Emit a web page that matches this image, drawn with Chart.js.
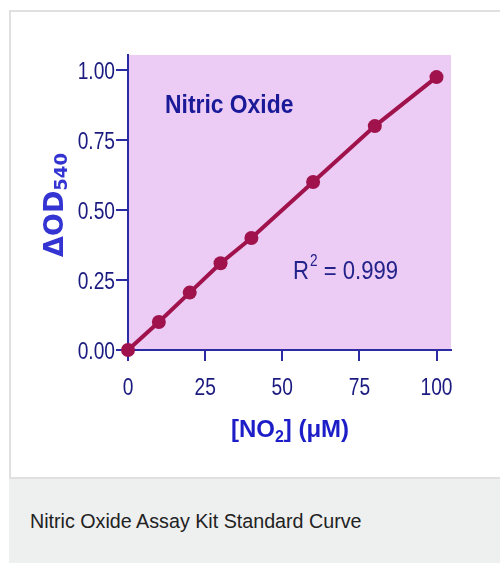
<!DOCTYPE html>
<html lang="en">
<head>
  <meta charset="UTF-8">
  <title>Nitric Oxide Assay Kit Standard Curve</title>
  <style>
    * { margin: 0; padding: 0; box-sizing: border-box; }
    body { width: 500px; height: 563px; background: #fff; overflow: hidden; position: relative; font-family: "Liberation Sans", Arial, sans-serif; }
    /* white card with the figure */
    .card {
      position: absolute; left: 9px; top: 10px; width: 520px; height: 469px;
      border: 2px solid #e0e0e0; background: #fff;
    }
    /* grey caption strip */
    .caption {
      position: absolute; left: 9px; top: 479px; width: 520px; height: 100px;
      background: #eeefef; color: #222;
      font-size: 19.7px; padding: 31px 0 0 21px;
    }
    canvas { position: absolute; left: 0; top: 0; }
  </style>
  <script src="https://cdn.jsdelivr.net/npm/chart.js"></script>
</head>
<body>
  <div class="card"></div>
  <div class="caption">Nitric Oxide Assay Kit Standard Curve</div>
  <canvas id="curve" width="500" height="563"></canvas>

  <script>
    // standard curve readings
    const concentrations = [0, 10, 20, 30, 40, 60, 80, 100];      // [NO2] uM
    const absorbance = [0, 0.10, 0.205, 0.31, 0.40, 0.60, 0.80, 0.975]; // dOD540
    const xTicks = [0, 25, 50, 75, 100];
    const yTicks = [0, 0.25, 0.5, 0.75, 1.0];

    const sans = '"Liberation Sans", Arial, sans-serif';
    const axisColor = '#2b2ba3';
    const tickColor = '#1a1a80';
    const lineColor = '#a0124c';

    // no narrow font installed, so squeeze text horizontally
    function narrowText(ctx, text, x, y, font, sx, align) {
      ctx.save();
      ctx.font = font;
      const w = ctx.measureText(text).width * sx;
      const x0 = align === 'right' ? x - w : align === 'center' ? x - w / 2 : x;
      ctx.translate(x0, y);
      ctx.scale(sx, 1);
      ctx.textAlign = 'left';
      ctx.textBaseline = 'alphabetic';
      ctx.fillText(text, 0, 0);
      ctx.restore();
      return w;
    }

    // pink plot background
    const plotBg = {
      id: 'plotBg',
      beforeDraw(chart) {
        const { ctx, chartArea: a } = chart;
        ctx.save();
        ctx.fillStyle = '#eccbf4';
        ctx.fillRect(a.left, a.top, a.right - a.left, a.bottom - a.top);
        ctx.restore();
      }
    };

    // tick labels and titles
    const labels = {
      id: 'labels',
      afterDraw(chart) {
        const ctx = chart.ctx;
        const xs = chart.scales.x, ys = chart.scales.y;
        ctx.save();

        ctx.fillStyle = tickColor;
        const tickFont = '24px ' + sans;
        yTicks.forEach(v => {
          narrowText(ctx, v.toFixed(2), 115, ys.getPixelForValue(v) + 8.6, tickFont, 0.8, 'right');
        });
        xTicks.forEach(v => {
          narrowText(ctx, String(v), xs.getPixelForValue(v), 394.5, tickFont, 0.8, 'center');
        });

        // inner title
        ctx.fillStyle = '#1a1a99';
        narrowText(ctx, 'Nitric Oxide', 165, 113, 'bold 25px ' + sans, 0.915, 'left');

        // R squared
        ctx.fillStyle = '#22228a';
        let x = 293;
        x += narrowText(ctx, 'R', x, 279, '26px ' + sans, 0.85, 'left');
        x += narrowText(ctx, '2', x + 1, 266, '16px ' + sans, 0.85, 'left') + 1;
        narrowText(ctx, ' = 0.999', x, 279, '26px ' + sans, 0.85, 'left');

        // x axis title
        ctx.fillStyle = '#1e1ec8';
        const p1 = '[NO', p2 = '2', p3 = '] (\u03bcM)';
        ctx.font = 'bold 24px ' + sans;
        const w1 = ctx.measureText(p1).width, w3 = ctx.measureText(p3).width;
        ctx.font = 'bold 16px ' + sans;
        const w2 = ctx.measureText(p2).width;
        const xt = 290 - (w1 + w2 + w3) / 2;
        ctx.textBaseline = 'alphabetic';
        ctx.font = 'bold 24px ' + sans;
        ctx.fillText(p1, xt, 437);
        ctx.font = 'bold 16px ' + sans;
        ctx.fillText(p2, xt + w1, 442);
        ctx.font = 'bold 24px ' + sans;
        ctx.fillText(p3, xt + w1 + w2, 437);

        // y axis title, rotated
        ctx.fillStyle = '#3434d2';
        const big = 'bold 27px "DejaVu Sans", sans-serif';
        const small = 'bold 18px "DejaVu Sans", sans-serif';
        ctx.font = big;
        const wm = ctx.measureText('\u0394OD').width;
        ctx.font = small;
        const ws = ctx.measureText('540').width;
        ctx.translate(63, 205 + (wm + ws) / 2);
        ctx.rotate(-Math.PI / 2);
        ctx.font = big;
        ctx.fillText('\u0394OD', 0, 0);
        ctx.font = small;
        ctx.fillText('540', wm, 4);
        ctx.restore();
      }
    };

    new Chart(document.getElementById('curve').getContext('2d'), {
      type: 'scatter',
      data: {
        datasets: [{
          data: concentrations.map((c, i) => ({ x: c, y: absorbance[i] })),
          showLine: true,
          borderColor: lineColor,
          borderWidth: 4,
          pointRadius: 7,
          pointBackgroundColor: lineColor,
          pointBorderWidth: 0,
          clip: false
        }]
      },
      options: {
        responsive: false,
        animation: false,
        layout: { padding: { left: 0, top: 55, right: 49, bottom: 153 } },
        plugins: { legend: { display: false }, tooltip: { enabled: false } },
        scales: {
          x: {
            type: 'linear', min: 0, max: 104.7,
            afterBuildTicks: s => { s.ticks = xTicks.map(v => ({ value: v })); },
            afterFit: s => { s.height = 60; },
            grid: { drawOnChartArea: false, tickLength: 11, color: axisColor, lineWidth: 2 },
            border: { display: true, color: axisColor, width: 2 },
            ticks: { display: false }
          },
          y: {
            type: 'linear', min: 0, max: 1.054,
            afterBuildTicks: s => { s.ticks = yTicks.map(v => ({ value: v })); },
            afterFit: s => { s.width = 128; },
            grid: { drawOnChartArea: false, tickLength: 12, color: axisColor, lineWidth: 2 },
            border: { display: true, color: axisColor, width: 2 },
            ticks: { display: false }
          }
        }
      },
      plugins: [plotBg, labels]
    });
  </script>
</body>
</html>
